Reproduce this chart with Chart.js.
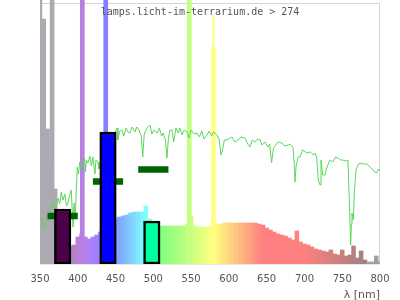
<!DOCTYPE html>
<html>
<head>
<meta charset="utf-8">
<title>lamps.licht-im-terrarium.de &gt; 274</title>
<script src="https://cdn.jsdelivr.net/npm/chart.js@4.4.1/dist/chart.umd.min.js"></script>
<style>
    html, body { margin: 0; padding: 0; background: #fff; }
    canvas { display: block; }
</style>
</head>
<body>
<canvas id="spectrumChart" width="400" height="300"></canvas>
<script>
const siteCaption = 'lamps.licht-im-terrarium.de > 274';

// lamp spectrum, 5 nm steps (relative intensity)
const lampNm = [
    350, 355, 360, 365, 370, 375, 380, 385, 390, 395,
    400, 405, 410, 415, 420, 425, 430, 435, 440, 445,
    450, 455, 460, 465, 470, 475, 480, 485, 490, 495,
    500, 505, 510, 515, 520, 525, 530, 535, 540, 545,
    550, 555, 560, 565, 570, 575, 580, 585, 590, 595,
    600, 605, 610, 615, 620, 625, 630, 635, 640, 645,
    650, 655, 660, 665, 670, 675, 680, 685, 690, 695,
    700, 705, 710, 715, 720, 725, 730, 735, 740, 745,
    750, 755, 760, 765, 770, 775, 780, 785, 790, 795,
    800
];
const lampVal = [
    264, 245, 135, 100, 75, 50, 32, 22, 18, 19,
    27, 30, 27, 25, 27, 29, 32, 36, 40, 43,
    45, 47, 48, 49, 51, 52, 52, 52, 58, 45,
    42, 40, 38, 38, 38, 38, 38, 38, 38, 40,
    48, 38, 37, 37, 37, 38, 44, 40, 40, 41,
    41, 41, 41, 41, 41, 41, 41, 41, 40, 39,
    36, 34, 32, 30, 29, 28, 26, 24, 33, 22,
    20, 19, 17, 15, 14, 13, 12, 14, 10, 9,
    14, 8, 9, 18, 6, 13, 4, 2, 2, 8,
    2
];

// mercury lines
const hgNm = [366, 406, 437, 547.5, 579.5];
const hgVal = [270, 270, 270, 270, 217];
const hgTipNm = [579.5];
const hgTipVal = [249];

// daylight reference
const sunNm = [
    351.7, 354, 356.2, 358.3, 360.5, 362.8, 365, 367.2, 369.5, 371.6,
    374, 376, 378.2, 380.4, 383, 385, 387, 389, 391.4, 393.7,
    395, 396.8, 398, 399.4, 401, 402.5, 404.5, 406.9, 409, 410.2,
    411.3, 413.5, 416, 418, 420, 422.7, 424, 426.8, 428, 432,
    438, 444, 450, 452, 453, 455.5, 458.5, 461, 464, 466.5,
    469, 472, 475.7, 478, 481, 484, 486, 488, 491.6, 495.6,
    498, 501, 505, 508, 511, 513, 516, 518, 520, 522,
    524.7, 527, 530, 533, 535, 538, 541, 544.6, 547, 550,
    554, 557.8, 561, 564, 567, 571, 574, 577, 580, 584,
    587, 589.5, 591, 594, 597.5, 601.5, 604.1, 608, 612, 616,
    621.3, 625, 627.9, 631, 634.5, 638, 641.2, 644, 647.8, 651.8,
    654, 656.5, 659, 661, 665, 670.3, 674, 678.2, 681, 684.8,
    686.5, 687.5, 689, 691.5, 694.1, 697.7, 703, 708, 712, 714,
    716.2, 718.3, 720.6, 721.9, 724.2, 727.2, 729.4, 733.8, 737.8, 741,
    744.4, 748, 751, 754, 757.6, 759.4, 761.2, 762.1, 762.9, 764.7,
    766, 768.2, 771.3, 775, 778, 782.4, 786.8, 790.7, 793, 795.6,
    798, 800
];
const sunVal = [
    47, 41, 34, 47, 44, 51, 58, 62, 55, 57,
    66, 60, 72, 64, 70, 58, 61, 68, 74, 37,
    61, 45, 74, 97, 90, 102, 95, 101, 106, 92,
    104, 101, 108, 98, 107, 90, 104, 102, 95, 110,
    120, 128, 133, 136, 124, 133, 134, 128, 136, 132,
    131, 137, 132, 137, 134, 128, 107, 130, 136, 139,
    130, 134, 131, 136, 128, 131, 124, 106, 126, 134,
    134, 122, 136, 131, 136, 129, 134, 132, 126, 134,
    130, 131, 127, 133, 125, 129, 133, 128, 132, 129,
    125, 109, 112, 124, 124, 126, 127, 122, 124, 127,
    126, 120, 117, 124, 122, 125, 124, 119, 122, 117,
    120, 101, 116, 118, 122, 121, 118, 119, 120, 117,
    100, 82, 98, 107, 107, 114, 111, 112, 109, 111,
    107, 84, 79, 104, 89, 89, 96, 104, 102, 107,
    106, 104, 104, 103, 104, 64, 19, 40, 51, 44,
    71, 94, 100, 101, 100, 100, 97, 94, 92, 91,
    95, 93
];

// measured bands
const bandStart = [360, 420, 480];
const bandEnd = [400, 460, 520];
const bandVal = [48, 82.5, 94.5];

// LED channels
const ledNm = [380, 440, 498];
const ledVal = [55, 132, 43];

const frameTop = 261;

function specColor(nm) {
    if (nm < 380) return '#aea8b0';
    if (nm > 780) return '#a0a0a0';
    let r = 0, g = 0, b = 0;
    if (nm < 440) { r = (440 - nm) / 60; b = 1; }
    else if (nm < 490) { g = (nm - 440) / 50; b = 1; }
    else if (nm < 510) { g = 1; b = (510 - nm) / 20; }
    else if (nm < 580) { r = (nm - 510) / 70; g = 1; }
    else if (nm < 645) { r = 1; g = (645 - nm) / 65; }
    else { r = 1; }
    let f = 1;
    if (nm < 420) f = 0.3 + 0.7 * (nm - 380) / 40;
    else if (nm > 700) f = 0.3 + 0.7 * (780 - nm) / 80;
    const mix = v => Math.round((v * f * 255 + 255) / 2);
    return 'rgb(' + mix(r) + ',' + mix(g) + ',' + mix(b) + ')';
}

const framePlugin = {
    id: 'frame',
    beforeDatasetsDraw(chart) {
        const { ctx, chartArea: a } = chart;
        const top = Math.round(chart.scales.y.getPixelForValue(frameTop)) + 0.5;
        ctx.save();
        ctx.strokeStyle = '#d4d4d4';
        ctx.lineWidth = 1;
        ctx.strokeRect(a.left + 0.5, top, a.right - a.left - 1, a.bottom - top);
        ctx.restore();
    },
    afterDraw(chart) {
        const ctx = chart.ctx;
        ctx.save();
        ctx.font = '10px "DejaVu Sans Mono"';
        ctx.fillStyle = '#555';
        ctx.textAlign = 'center';
        ctx.fillText(siteCaption, chart.width / 2, 15);
        ctx.restore();
    }
};

const bandData = [];
bandStart.forEach((s, i) => {
    bandData.push({ x: s, y: bandVal[i] }, { x: bandEnd[i], y: bandVal[i] }, { x: bandEnd[i] + 1, y: null });
});

const ctx = document.getElementById('spectrumChart').getContext('2d');
const spectrumChart = new Chart(ctx, {
    type: 'bar',
    data: {
        datasets: [{
            label: 'lamp',
            data: lampNm.map((nm, i) => ({ x: nm, y: lampVal[i] })),
            backgroundColor: c => specColor(c.raw ? c.raw.x : 550),
            barThickness: 3.9,
            grouped: false,
            order: 6
        }, {
            label: 'Hg',
            data: hgNm.map((nm, i) => ({ x: nm, y: hgVal[i] })),
            backgroundColor: c => specColor(c.raw ? c.raw.x : 550),
            barThickness: 4,
            grouped: false,
            order: 5
        }, {
            label: 'Hg tip',
            data: hgTipNm.map((nm, i) => ({ x: nm, y: hgTipVal[i] })),
            backgroundColor: c => specColor(c.raw ? c.raw.x : 550),
            barThickness: 1.5,
            grouped: false,
            order: 5
        }, {
            type: 'line',
            label: 'sun',
            data: sunNm.map((nm, i) => ({ x: nm, y: sunVal[i] })),
            borderColor: '#5cd65c',
            borderWidth: 1,
            pointRadius: 0,
            tension: 0,
            order: 4
        }, {
            type: 'line',
            label: 'bands',
            data: bandData,
            borderColor: '#006400',
            borderWidth: 6.5,
            borderCapStyle: 'butt',
            pointRadius: 0,
            spanGaps: false,
            order: 3
        }, {
            label: 'LED',
            data: ledNm.map((nm, i) => ({ x: nm, y: ledVal[i] })),
            backgroundColor: ['#4b0049', '#0000ff', '#00ffa0'],
            borderColor: '#000',
            borderWidth: 2.5,
            borderSkipped: false,
            barThickness: 16.5,
            grouped: false,
            order: 2
        }]
    },
    options: {
        responsive: false,
        animation: false,
        events: [],
        layout: { padding: { left: 40, right: 20, top: 0, bottom: 0 } },
        plugins: {
            legend: { display: false },
            tooltip: { enabled: false }
        },
        scales: {
            x: {
                type: 'linear',
                min: 350,
                max: 800,
                offset: false,
                grid: { display: false, drawTicks: false, offset: false },
                border: { display: false },
                ticks: {
                    stepSize: 50,
                    padding: 9.5,
                    color: '#555',
                    font: { family: 'DejaVu Sans', size: 10 }
                },
                title: {
                    display: true,
                    text: 'λ [nm]',
                    align: 'end',
                    color: '#555',
                    font: { family: 'DejaVu Sans', size: 11 },
                    padding: { top: 2, bottom: -1.6 }
                },
                afterFit: scale => { scale.height = 36; }
            },
            y: {
                display: false,
                min: 0,
                max: 264
            }
        }
    },
    plugins: [framePlugin]
});
</script>
</body>
</html>
